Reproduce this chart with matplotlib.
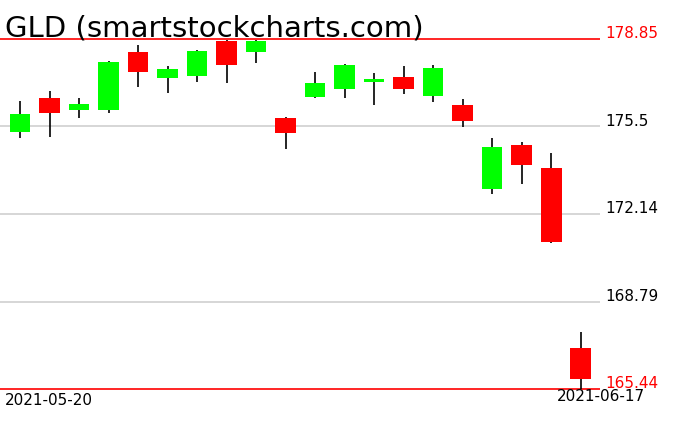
import numpy as np
import matplotlib
matplotlib.use('Agg')
import matplotlib.pyplot as plt

ticker = 'GLD'
dates = ['2021-05-20', '2021-05-21', '2021-05-24', '2021-05-25', '2021-05-26',
         '2021-05-27', '2021-05-28', '2021-06-01', '2021-06-02', '2021-06-03',
         '2021-06-04', '2021-06-07', '2021-06-08', '2021-06-09', '2021-06-10',
         '2021-06-11', '2021-06-14', '2021-06-15', '2021-06-16', '2021-06-17']
opens = [175.30, 176.59, 176.14, 176.14, 178.35, 177.37, 177.44, 178.77, 178.34, 175.82,
         176.64, 176.95, 177.21, 177.39, 176.68, 176.32, 173.11, 174.80, 173.91, 167.01]
highs = [176.47, 176.86, 176.59, 177.99, 178.62, 177.82, 178.44, 178.82, 178.80, 175.85,
         177.59, 177.89, 177.55, 177.82, 177.85, 176.55, 175.07, 174.92, 174.49, 167.64]
lows = [175.07, 175.11, 175.83, 176.03, 177.02, 176.79, 177.21, 177.18, 177.94, 174.65,
        176.60, 176.60, 176.33, 176.75, 176.45, 175.49, 172.92, 173.31, 171.02, 165.44]
closes = [175.98, 176.03, 176.36, 177.98, 177.60, 177.70, 178.39, 177.87, 178.77, 175.26,
          177.16, 177.85, 177.32, 176.95, 177.74, 175.72, 174.72, 174.03, 171.08, 165.83]
levels = [178.85, 175.5, 172.14, 168.79, 165.44]
level_labels = ['178.85', '175.5', '172.14', '168.79', '165.44']

fig = plt.figure(figsize=(6.76, 4.31), dpi=100)
ax = fig.add_axes([0, 0, 600 / 676, 1])
ax.set_axis_off()

x = np.arange(len(dates))
o = np.array(opens)
c = np.array(closes)
up = c >= o
colors = np.where(up, '#00ff00', '#ff0000')

# gridlines / support-resistance lines
for i, lv in enumerate(levels):
    is_edge = i == 0 or i == len(levels) - 1
    col = '#ff0000' if is_edge else '#d0d0d0'
    ax.axhline(lv, color=col, lw=1.2, zorder=1)
    ax.annotate(level_labels[i], xy=(1, lv), xycoords=('axes fraction', 'data'),
                xytext=(4, -1), textcoords='offset points', ha='left', va='bottom',
                fontsize=11, color=col if is_edge else 'black', annotation_clip=False)

ax.vlines(x, lows, highs, color='black', lw=1.2, zorder=2)
bottoms = np.minimum(o, c)
heights = np.maximum(np.abs(c - o), 0.1)
ax.bar(x, heights, bottom=bottoms, width=0.71, color=colors, zorder=3)

ax.set_xlim(-0.678, 19.66)
ax.set_ylim(163.87, 180.38)

ax.text(0.008, 1 - 393 / 431, dates[0], transform=ax.transAxes, ha='left', va='top',
        fontsize=11)
ax.text(645 / 600, 1 - 389 / 431, dates[-1], transform=ax.transAxes, ha='right', va='top',
        fontsize=11, clip_on=False)

fig.text(5 / 676, 1 - 37 / 431, f'{ticker} (smartstockcharts.com)', fontsize=21,
         ha='left', va='baseline', color='black')

fig.savefig('out.png', dpi=100)
